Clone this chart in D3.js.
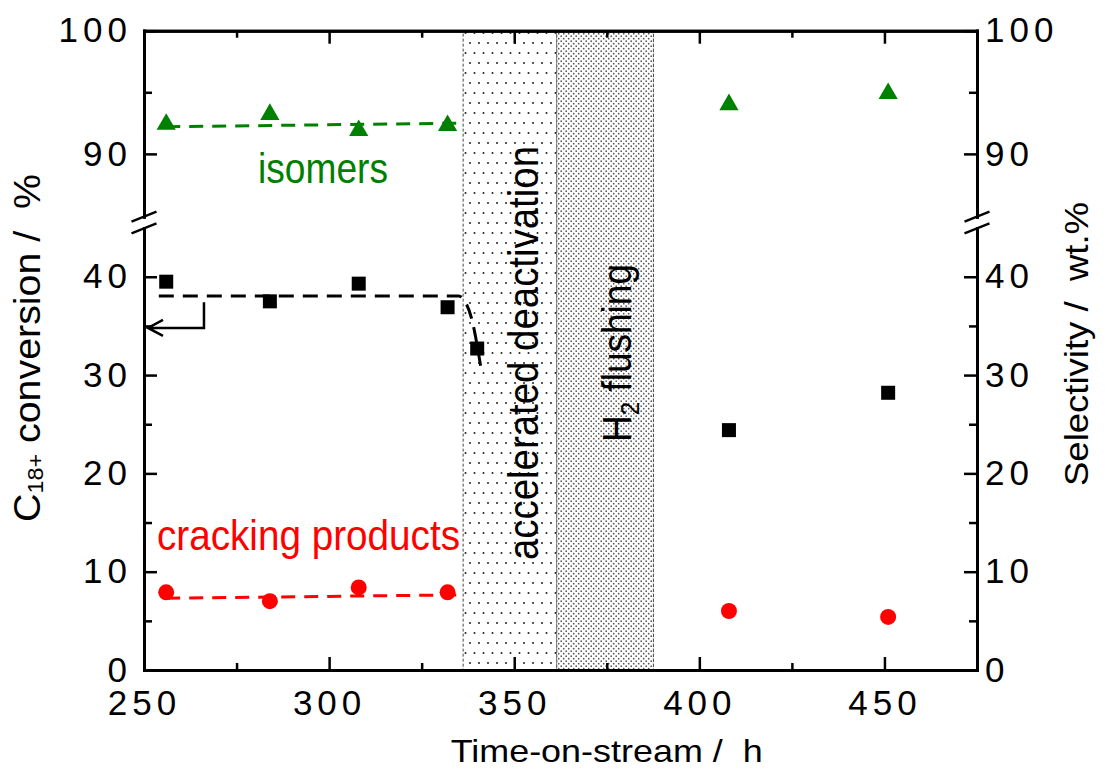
<!DOCTYPE html>
<html>
<head>
<meta charset="utf-8">
<script src="https://cdn.jsdelivr.net/npm/d3@7"></script>
<style>
body { margin: 0; background: #fff; }
text { font-family: "Liberation Sans Narrow", "Arial Narrow", "Liberation Sans", Arial, sans-serif; white-space: pre; }
.tick text { font-family: "Liberation Sans", Arial, sans-serif; font-size: 35px; letter-spacing: 5px; fill: #000; }
.domain { stroke-width: 3; stroke-linecap: square; }
.tick line { stroke-width: 2.5; }
</style>
</head>
<body>
<div class="chart"></div>
<script>
// values
var timeH = [256, 284, 308, 332, 408, 451];
var isomers = [92.4, 93.2, 91.9, 92.3, 94.0, 94.9];
var cracking = [7.9, 7.0, 8.4, 7.9, 6.0, 5.4];
var convTime = [256, 284, 308, 332, 340, 408, 451];
var conversion = [39.5, 37.5, 39.3, 36.9, 32.7, 24.4, 28.2];

// dashed guide lines
var isoTrendTime = [256, 336.5];
var isoTrend = [92.2, 92.5];
var crackTrendTime = [256, 336.5];
var crackTrend = [7.3, 7.65];
var convTrendTime = [254, 335, 336.5, 338.6, 340, 341.1];
var convTrend = [38.05, 38.05, 37.6, 35.6, 33.0, 30.5];

var zoneStart = [336.2, 361.5];
var zoneEnd = [361.5, 387.6];

var xTicks = [250, 300, 350, 400, 450];
var xMinor = [275, 325, 375, 425];
var lowTicks = [0, 10, 20, 30, 40];
var lowMinor = [5, 15, 25, 35];
var highTicks = [90, 100];
var highMinor = [95];

var width = 1109, height = 776;
var pLeft = 144, pRight = 977, pTop = 30.7, pBottom = 670;

var x = d3.scaleLinear().domain([250, 475]).range([pLeft, pRight]);
var yLow = d3.scaleLinear().domain([0, 44.93]).range([pBottom, 228.3]);
var yHigh = d3.scaleLinear().domain([84.9, 100]).range([216.7, pTop]);

var svg = d3.select(".chart")
    .append("svg")
    .attr("width", width)
    .attr("height", height);

var defs = svg.append("defs");

var p1 = defs.append("pattern")
    .attr("id", "sparse")
    .attr("patternUnits", "userSpaceOnUse")
    .attr("width", 9).attr("height", 20);
p1.append("rect").attr("width", 9).attr("height", 20).attr("fill", "#fff");
p1.append("circle").attr("cx", 2).attr("cy", 3).attr("r", 1).attr("fill", "#222");
p1.append("circle").attr("cx", 6.5).attr("cy", 13).attr("r", 1).attr("fill", "#222");

var p2 = defs.append("pattern")
    .attr("id", "dense")
    .attr("patternUnits", "userSpaceOnUse")
    .attr("width", 5).attr("height", 5);
p2.append("rect").attr("width", 5).attr("height", 5).attr("fill", "#fff");
p2.append("circle").attr("cx", 1.2).attr("cy", 1.2).attr("r", 0.85).attr("fill", "#555");
p2.append("circle").attr("cx", 3.7).attr("cy", 3.7).attr("r", 0.85).attr("fill", "#555");

// shaded periods
svg.selectAll(".zone")
    .data(zoneStart)
    .enter().append("rect")
    .attr("class", "zone")
    .attr("x", function(d) { return x(d); })
    .attr("y", pTop)
    .attr("width", function(d, i) { return x(zoneEnd[i]) - x(d); })
    .attr("height", pBottom - pTop)
    .attr("fill", function(d, i) { return i == 0 ? "url(#sparse)" : "url(#dense)"; })
    .attr("stroke", "#444")
    .attr("stroke-width", 1)
    .attr("stroke-dasharray", "3,2");

// zone labels
svg.append("text")
    .attr("transform", "translate(538,353) rotate(-90)")
    .attr("text-anchor", "middle")
    .attr("font-size", "43px")
    .attr("textLength", 414)
    .attr("lengthAdjust", "spacingAndGlyphs")
    .text("accelerated deactivation");

var h2 = svg.append("text")
    .attr("transform", "translate(631,353) rotate(-90)")
    .attr("text-anchor", "middle")
    .attr("font-size", "40px")
    .attr("textLength", 178)
    .attr("lengthAdjust", "spacingAndGlyphs");
h2.append("tspan").text("H");
h2.append("tspan").attr("font-size", "26px").attr("dy", 8).text("2");
h2.append("tspan").attr("dy", -8).text(" flushing");

// axes
function axisStyle(g) {
    g.selectAll(".tick line").attr("stroke", "#000");
    g.select(".domain").attr("stroke", "#000");
}

svg.append("g")
    .attr("transform", "translate(0," + pBottom + ")")
    .call(d3.axisBottom(x).tickValues(xTicks).tickSizeInner(-13).tickSizeOuter(0).tickPadding(20))
    .call(axisStyle);
svg.append("g")
    .attr("transform", "translate(0," + pBottom + ")")
    .call(d3.axisBottom(x).tickValues(xMinor).tickSizeInner(-7).tickSizeOuter(0).tickFormat(""))
    .call(axisStyle);
svg.append("g")
    .attr("transform", "translate(0," + pTop + ")")
    .call(d3.axisTop(x).tickValues(xTicks).tickSizeInner(-13).tickSizeOuter(0).tickFormat(""))
    .call(axisStyle);
svg.append("g")
    .attr("transform", "translate(0," + pTop + ")")
    .call(d3.axisTop(x).tickValues(xMinor).tickSizeInner(-7).tickSizeOuter(0).tickFormat(""))
    .call(axisStyle);

[yLow, yHigh].forEach(function(s, i) {
    var major = i == 0 ? lowTicks : highTicks;
    var minor = i == 0 ? lowMinor : highMinor;
    svg.append("g")
        .attr("transform", "translate(" + pLeft + ",0)")
        .call(d3.axisLeft(s).tickValues(major).tickSizeInner(-13).tickSizeOuter(0).tickPadding(12))
        .call(axisStyle);
    svg.append("g")
        .attr("transform", "translate(" + pLeft + ",0)")
        .call(d3.axisLeft(s).tickValues(minor).tickSizeInner(-8).tickSizeOuter(0).tickFormat(""))
        .call(axisStyle);
    svg.append("g")
        .attr("transform", "translate(" + pRight + ",0)")
        .call(d3.axisRight(s).tickValues(major).tickSizeInner(-13).tickSizeOuter(0).tickPadding(8))
        .call(axisStyle);
    svg.append("g")
        .attr("transform", "translate(" + pRight + ",0)")
        .call(d3.axisRight(s).tickValues(minor).tickSizeInner(-8).tickSizeOuter(0).tickFormat(""))
        .call(axisStyle);
});

// axis break marks
[pLeft, pRight].forEach(function(ax) {
    [yHigh.range()[0], yLow.range()[1]].forEach(function(yb) {
        svg.append("line")
            .attr("x1", ax - 12.5).attr("y1", yb + 5)
            .attr("x2", ax + 12.5).attr("y2", yb - 5)
            .attr("stroke", "#000")
            .attr("stroke-width", 2.5);
    });
});

// dashed guides
var lineHigh = d3.line()
    .x(function(d) { return x(d[0]); })
    .y(function(d) { return yHigh(d[1]); });
var lineLow = d3.line()
    .x(function(d) { return x(d[0]); })
    .y(function(d) { return yLow(d[1]); })
    .curve(d3.curveMonotoneX);

svg.append("path")
    .datum(d3.zip(isoTrendTime, isoTrend))
    .attr("d", lineHigh)
    .attr("fill", "none")
    .attr("stroke", "#008000")
    .attr("stroke-width", 3)
    .attr("stroke-dasharray", "14,9");

svg.append("path")
    .datum(d3.zip(crackTrendTime, crackTrend))
    .attr("d", lineLow)
    .attr("fill", "none")
    .attr("stroke", "#ff0000")
    .attr("stroke-width", 3)
    .attr("stroke-dasharray", "14,9");

svg.append("path")
    .datum(d3.zip(convTrendTime, convTrend))
    .attr("d", lineLow)
    .attr("fill", "none")
    .attr("stroke", "#000")
    .attr("stroke-width", 3)
    .attr("stroke-dasharray", "15,9");

// arrow pointing to the left axis
svg.append("path")
    .attr("d", "M" + x(266.2) + "," + yLow(37.4) + "V" + yLow(34.8) + "H" + (pLeft + 4)
        + "M" + (pLeft + 19) + "," + (yLow(34.8) - 8) + "L" + (pLeft + 4) + "," + yLow(34.8)
        + "L" + (pLeft + 19) + "," + (yLow(34.8) + 8))
    .attr("fill", "none")
    .attr("stroke", "#000")
    .attr("stroke-width", 2.5);

// markers
svg.selectAll(".iso")
    .data(d3.zip(timeH, isomers))
    .enter().append("path")
    .attr("class", "iso")
    .attr("transform", function(d) { return "translate(" + x(d[0]) + "," + yHigh(d[1]) + ")"; })
    .attr("d", d3.symbol().type(d3.symbolTriangle).size(160))
    .attr("fill", "#008000");

svg.selectAll(".conv")
    .data(d3.zip(convTime, conversion))
    .enter().append("rect")
    .attr("class", "conv")
    .attr("x", function(d) { return x(d[0]) - 7; })
    .attr("y", function(d) { return yLow(d[1]) - 7; })
    .attr("width", 14)
    .attr("height", 14)
    .attr("fill", "#000");

svg.selectAll(".crack")
    .data(d3.zip(timeH, cracking))
    .enter().append("circle")
    .attr("class", "crack")
    .attr("cx", function(d) { return x(d[0]); })
    .attr("cy", function(d) { return yLow(d[1]); })
    .attr("r", 8)
    .attr("fill", "#ff0000");

// labels
svg.append("text")
    .attr("x", 258)
    .attr("y", 183)
    .attr("font-size", "42px")
    .attr("fill", "#008000")
    .attr("textLength", 130)
    .attr("lengthAdjust", "spacingAndGlyphs")
    .text("isomers");

svg.append("text")
    .attr("x", 157)
    .attr("y", 550)
    .attr("font-size", "42px")
    .attr("fill", "#ff0000")
    .attr("textLength", 303)
    .attr("lengthAdjust", "spacingAndGlyphs")
    .text("cracking products");

svg.append("text")
    .attr("x", 606.7)
    .attr("y", 762)
    .attr("text-anchor", "middle")
    .attr("font-size", "32px")
    .attr("textLength", 312)
    .attr("lengthAdjust", "spacingAndGlyphs")
    .text("Time-on-stream /  h");

var yl = svg.append("text")
    .attr("transform", "translate(40,348) rotate(-90)")
    .attr("text-anchor", "middle")
    .attr("font-size", "37px")
    .attr("textLength", 348)
    .attr("lengthAdjust", "spacingAndGlyphs");
yl.append("tspan").text("C");
yl.append("tspan").attr("font-size", "22px").attr("dy", 3).text("18+");
yl.append("tspan").attr("dy", -3).text(" conversion /  %");

svg.append("text")
    .attr("transform", "translate(1088,344) rotate(-90)")
    .attr("text-anchor", "middle")
    .attr("font-size", "34px")
    .attr("textLength", 284)
    .attr("lengthAdjust", "spacingAndGlyphs")
    .text("Selectivity /  wt.%");
</script>
</body>
</html>
